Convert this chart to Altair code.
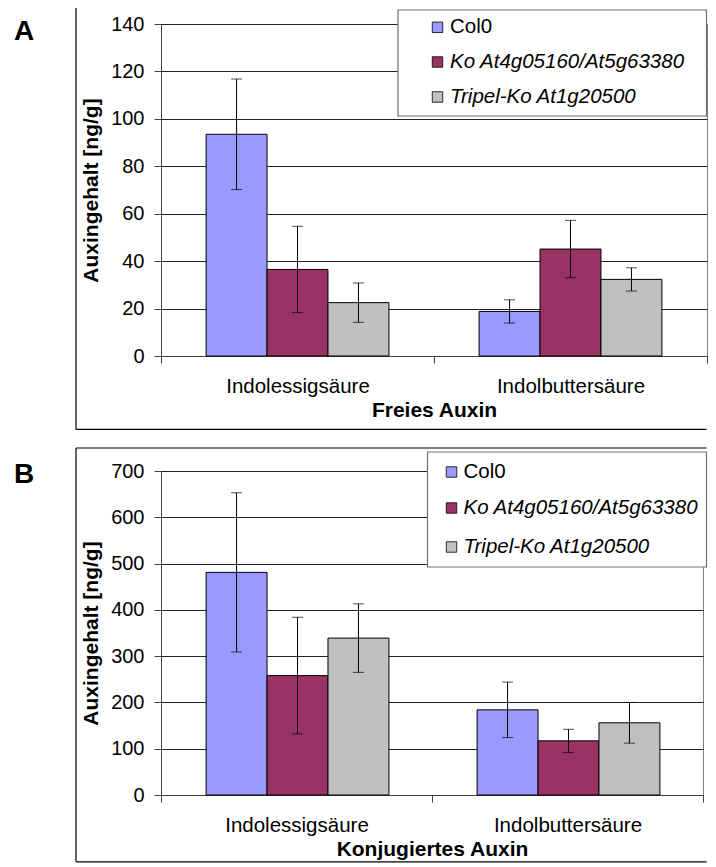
import altair as alt
import pandas as pd

categories = ["Indolessigsäure", "Indolbuttersäure"]
series = ["Col0", "Ko At4g05160/At5g63380", "Tripel-Ko At1g20500"]
colors = ["#9999FF", "#993366", "#C0C0C0"]

# Panel A: Freies Auxin (ng/g)
free_col0 = [93.5, 18.8]
free_ko = [36.5, 45.1]
free_tripel = [22.5, 32.3]
free_col0_err = [23.3, 4.9]
free_ko_err = [18.2, 12.1]
free_tripel_err = [8.3, 4.9]

# Panel B: Konjugiertes Auxin (ng/g)
conj_col0 = [481, 184]
conj_ko = [258, 117]
conj_tripel = [339, 156]
conj_col0_err = [172, 60]
conj_ko_err = [126, 25]
conj_tripel_err = [74, 44]

FONT = "Liberation Sans"


def make_df(means, errs):
    rows = []
    for s, m, e in zip(series, means, errs):
        for c, v, d in zip(categories, m, e):
            rows.append({"category": c, "series": s, "value": v, "lo": v - d, "hi": v + d})
    return pd.DataFrame(rows)


def panel(df, ymax, ystep, W, H, xtitle, letter, g):
    x = alt.X("category:N", sort=categories,
              scale=alt.Scale(paddingInner=0, paddingOuter=0),
              axis=alt.Axis(title=xtitle, labelAngle=0, tickBand="extent", grid=False,
                            labelPadding=13, titlePadding=3, tickSize=7,
                            labelFontSize=20.5))
    xo = alt.XOffset("series:N", sort=series,
                     scale=alt.Scale(paddingInner=0, paddingOuter=0.74))
    y = alt.Y("value:Q", scale=alt.Scale(domain=[0, ymax], nice=False),
              axis=alt.Axis(title="Auxingehalt [ng/g]", values=list(range(0, ymax + 1, ystep)),
                            grid=True, tickSize=7, labelPadding=10, titlePadding=9))
    color = alt.Color("series:N", sort=series,
                      scale=alt.Scale(domain=series, range=colors), legend=None)

    bars = alt.Chart(df).mark_bar(stroke="black", strokeWidth=1).encode(
        x=x, xOffset=xo, y=y, color=color)
    err = alt.Chart(df).mark_rule(color="black", strokeWidth=1).encode(
        x=x, xOffset=xo, y="lo:Q", y2="hi:Q")
    cap_hi = alt.Chart(df).mark_tick(color="black", size=11, thickness=1,
                                     orient="horizontal").encode(x=x, xOffset=xo, y="hi:Q")
    cap_lo = alt.Chart(df).mark_tick(color="black", size=11, thickness=1,
                                     orient="horizontal").encode(x=x, xOffset=xo, y="lo:Q")

    dummy = pd.DataFrame({"k": [0]})
    fx0, fy0, fy1, fx1 = g["fx0"], g["fy0"], g["fy1"], g["fx1"]
    frame_top = alt.Chart(dummy).mark_rule(color="black", strokeWidth=1.2).encode(
        x=alt.value(fx0), x2=alt.value(fx1), y=alt.value(fy0))
    frame_left = alt.Chart(dummy).mark_rule(color="black", strokeWidth=1.2).encode(
        x=alt.value(fx0), y=alt.value(fy0), y2=alt.value(fy1))
    frame_bot = alt.Chart(dummy).mark_rule(color="black", strokeWidth=1.2).encode(
        x=alt.value(fx0), x2=alt.value(fx1), y=alt.value(fy1))

    leg_box = alt.Chart(dummy).mark_rect(fill="white", stroke="#707070", strokeWidth=1.2).encode(
        x=alt.value(g["lx0"]), x2=alt.value(g["lx1"]),
        y=alt.value(g["ly0"]), y2=alt.value(g["ly1"]))

    leg_df = pd.DataFrame({"series": series})
    leg_layers = []
    for i, s in enumerate(series):
        sub = leg_df.iloc[i:i + 1]
        leg_layers.append(
            alt.Chart(sub).mark_square(size=110, stroke="black", strokeWidth=0.8, opacity=1).encode(
                x=alt.value(g["sx"]), y=alt.value(g["rows"][i]), color=color))
        leg_layers.append(
            alt.Chart(sub).mark_text(align="left", baseline="middle", font=FONT, fontSize=20.5,
                                     fontStyle=("normal" if i == 0 else "italic"),
                                     color="black").encode(
                x=alt.value(g["tx"]), y=alt.value(g["rows"][i]), text="series:N"))

    letter_mark = alt.Chart(dummy).mark_text(align="left", baseline="top", font=FONT,
                                             fontSize=28, fontWeight="bold",
                                             color="black").encode(
        x=alt.value(-147), y=alt.value(g["letter_y"]), text=alt.value(letter))

    return alt.layer(bars, err, cap_hi, cap_lo, frame_top, frame_left, frame_bot,
                     leg_box, *leg_layers, letter_mark).properties(width=W, height=H)


df_a = make_df([free_col0, free_ko, free_tripel], [free_col0_err, free_ko_err, free_tripel_err])
df_b = make_df([conj_col0, conj_ko, conj_tripel], [conj_col0_err, conj_ko_err, conj_tripel_err])

WA, HA = 546, 332
WB, HB = 542, 324

geo_a = dict(fx0=-85, fy0=-17, fy1=405.4, fx1=545.5,
             lx0=237, lx1=545.5, ly0=-14, ly1=92,
             sx=276.5, tx=289, rows=[3.3, 38, 73], letter_y=-6.4)
geo_b = dict(fx0=-85, fy0=-23, fy1=390.8, fx1=545.5,
             lx0=266.5, lx1=545.5, ly0=-19, ly1=96,
             sx=290.5, tx=302.5, rows=[1, 37, 76], letter_y=-10.4)

pa = panel(df_a, 140, 20, WA, HA, "Freies Auxin", "A", geo_a)
pb = panel(df_b, 700, 100, WB, HB, "Konjugiertes Auxin", "B", geo_b)

chart = alt.vconcat(pa, pb, spacing=15).properties(
    padding={"left": 5, "top": -3, "right": 0, "bottom": 0},
    background="white",
).configure_view(stroke="#808080", strokeWidth=1).configure_axis(
    labelFont=FONT, labelFontSize=20, labelColor="black",
    titleFont=FONT, titleFontSize=21, titleFontWeight="bold", titleColor="black",
    domainColor="#404040", tickColor="#404040", gridColor="#222222", gridWidth=1,
)

chart.save("out.html", embed_options={"renderer": "svg", "actions": False})
